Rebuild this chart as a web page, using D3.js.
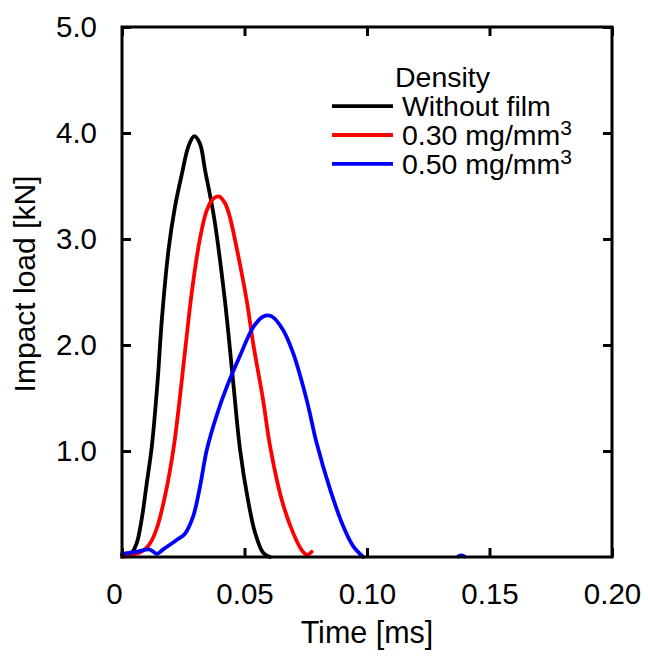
<!DOCTYPE html>
<html>
<head>
<meta charset="utf-8">
<script src="https://cdn.jsdelivr.net/npm/d3@7"></script>
<style>
    body { margin: 0; background: #fff; }
    text { font-family: "Liberation Sans", Arial, Helvetica, sans-serif; fill: #000; }
</style>
</head>
<body>
<div id="chart"></div>
<script>
// [time (ms), load (kN)] pairs
const withoutFilm = [
    [0.000, 0.02], [0.002, 0.02], [0.004, 0.04], [0.006, 0.13], [0.0082, 0.38],
    [0.010, 0.68], [0.0122, 1.05], [0.0145, 1.65], [0.0163, 2.25], [0.019, 2.90],
    [0.0216, 3.30], [0.0245, 3.62], [0.0272, 3.88], [0.0295, 3.97], [0.0318, 3.90],
    [0.0339, 3.65], [0.0376, 3.20], [0.042, 2.42], [0.0453, 1.67], [0.0482, 1.01],
    [0.0514, 0.54], [0.0543, 0.23], [0.0576, 0.04], [0.0604, 0.00]
];
const density030 = [
    [0.000, 0.00], [0.004, 0.02], [0.008, 0.05], [0.0101, 0.09], [0.012, 0.15],
    [0.0142, 0.27], [0.0176, 0.58], [0.0212, 1.05], [0.0261, 2.02], [0.0285, 2.50],
    [0.0318, 3.00], [0.0346, 3.27], [0.0372, 3.38], [0.0397, 3.40], [0.0422, 3.33],
    [0.0441, 3.20], [0.0465, 2.95], [0.0509, 2.42], [0.0535, 2.02], [0.0576, 1.48],
    [0.0604, 1.05], [0.0652, 0.54], [0.0698, 0.23], [0.0735, 0.06], [0.0755, 0.02],
    [0.0774, 0.05]
];
const density050 = [
    [0.000, 0.03], [0.006, 0.05], [0.0114, 0.07], [0.0142, 0.03], [0.0167, 0.07],
    [0.0223, 0.16], [0.0257, 0.22], [0.0290, 0.38], [0.0318, 0.66], [0.0346, 1.01],
    [0.0387, 1.34], [0.0427, 1.60], [0.0482, 1.90], [0.0536, 2.17], [0.0577, 2.27],
    [0.0611, 2.27], [0.0658, 2.14], [0.0699, 1.92], [0.0754, 1.48], [0.0795, 1.07],
    [0.0849, 0.64], [0.0903, 0.29], [0.0944, 0.10], [0.0985, 0.00],
    null,
    [0.1372, 0.005], [0.1385, 0.015], [0.1398, 0.005]
];

const seriesNames = ["Without film", "0.30 mg/mm", "0.50 mg/mm"];
const seriesSup = ["", "3", "3"];
const seriesColors = ["#000000", "#ff0000", "#0000ff"];
const seriesData = [withoutFilm, density030, density050];

const xTicks = [0, 0.05, 0.10, 0.15, 0.20];
const yTicks = [1.0, 2.0, 3.0, 4.0, 5.0];

const width = 648;
const height = 657;
const margin = {top: 27, right: 36, bottom: 100, left: 122};
const innerW = width - margin.left - margin.right;
const innerH = height - margin.top - margin.bottom;

const x = d3.scaleLinear().domain([0, 0.2]).range([0, innerW]);
const y = d3.scaleLinear().domain([0, 5]).range([innerH, 0]);

const svg = d3.select("#chart").append("svg")
    .attr("width", width)
    .attr("height", height)
    .append("g")
    .attr("transform", "translate(" + margin.left + "," + margin.top + ")");

const line = d3.line()
    .defined(function (d) { return d !== null; })
    .x(function (d) { return x(d[0]); })
    .y(function (d) { return y(Math.max(d[1], 0)); })
    .curve(d3.curveCatmullRom.alpha(0.5));

svg.selectAll(".series")
    .data(seriesData)
    .enter().append("path")
    .attr("class", "series")
    .attr("fill", "none")
    .attr("stroke", function (d, i) { return seriesColors[i]; })
    .attr("stroke-width", 3.8)
    .attr("stroke-linejoin", "round")
    .attr("stroke-linecap", "round")
    .attr("d", line);

// axes, ticks pointing inward on all four sides
const tickLen = -9;

function styleAxis(g) {
    g.select(".domain").remove();
    g.selectAll(".tick line").attr("stroke", "#000").attr("stroke-width", 3);
    g.selectAll(".tick text").style("font-size", "29.5px").attr("fill", "#000");
}

svg.append("g")
    .attr("transform", "translate(0," + innerH + ")")
    .call(d3.axisBottom(x).tickValues(xTicks).tickSize(tickLen).tickPadding(26)
        .tickFormat(function (d) { return d === 0 ? "0" : d3.format(".2f")(d); }))
    .call(styleAxis)
    .call(function (g) {
        g.selectAll(".tick text").filter(function (d) { return d === 0; }).attr("dx", -8);
    });

svg.append("g")
    .call(d3.axisLeft(y).tickValues(yTicks).tickSize(tickLen).tickPadding(25)
        .tickFormat(d3.format(".1f")))
    .call(styleAxis);

svg.append("g")
    .call(d3.axisTop(x).tickValues(xTicks).tickSize(tickLen).tickFormat(""))
    .call(styleAxis);

svg.append("g")
    .attr("transform", "translate(" + innerW + ",0)")
    .call(d3.axisRight(y).tickValues(yTicks).tickSize(tickLen).tickFormat(""))
    .call(styleAxis);

svg.append("rect")
    .attr("width", innerW)
    .attr("height", innerH)
    .attr("fill", "none")
    .attr("stroke", "#000")
    .attr("stroke-width", 3);

// axis titles
svg.append("text")
    .attr("x", innerW / 2)
    .attr("y", innerH + 86)
    .attr("text-anchor", "middle")
    .style("font-size", "30.5px")
    .text("Time [ms]");

svg.append("text")
    .attr("transform", "translate(" + (-87) + "," + (innerH / 2 - 8) + ") rotate(-90)")
    .attr("text-anchor", "middle")
    .style("font-size", "30px")
    .text("Impact load [kN]");

// legend
const legend = svg.append("g")
    .attr("transform", "translate(" + x(0.0857) + "," + y(4.43) + ")");

legend.append("text")
    .attr("x", 63)
    .attr("y", 0)
    .style("font-size", "28.5px")
    .text("Density");

const rows = legend.selectAll(".row")
    .data(seriesNames)
    .enter().append("g")
    .attr("class", "row")
    .attr("transform", function (d, i) { return "translate(0," + (28.8 * (i + 1)) + ")"; });

rows.append("line")
    .attr("x1", 0)
    .attr("x2", 61)
    .attr("y1", -10)
    .attr("y2", -10)
    .attr("stroke", function (d, i) { return seriesColors[i]; })
    .attr("stroke-width", 3.8);

const labels = rows.append("text")
    .attr("x", 70)
    .style("font-size", "28.5px");

labels.append("tspan").text(function (d) { return d; });
labels.append("tspan")
    .attr("dy", -10)
    .style("font-size", "21px")
    .text(function (d, i) { return seriesSup[i]; });
</script>
</body>
</html>
